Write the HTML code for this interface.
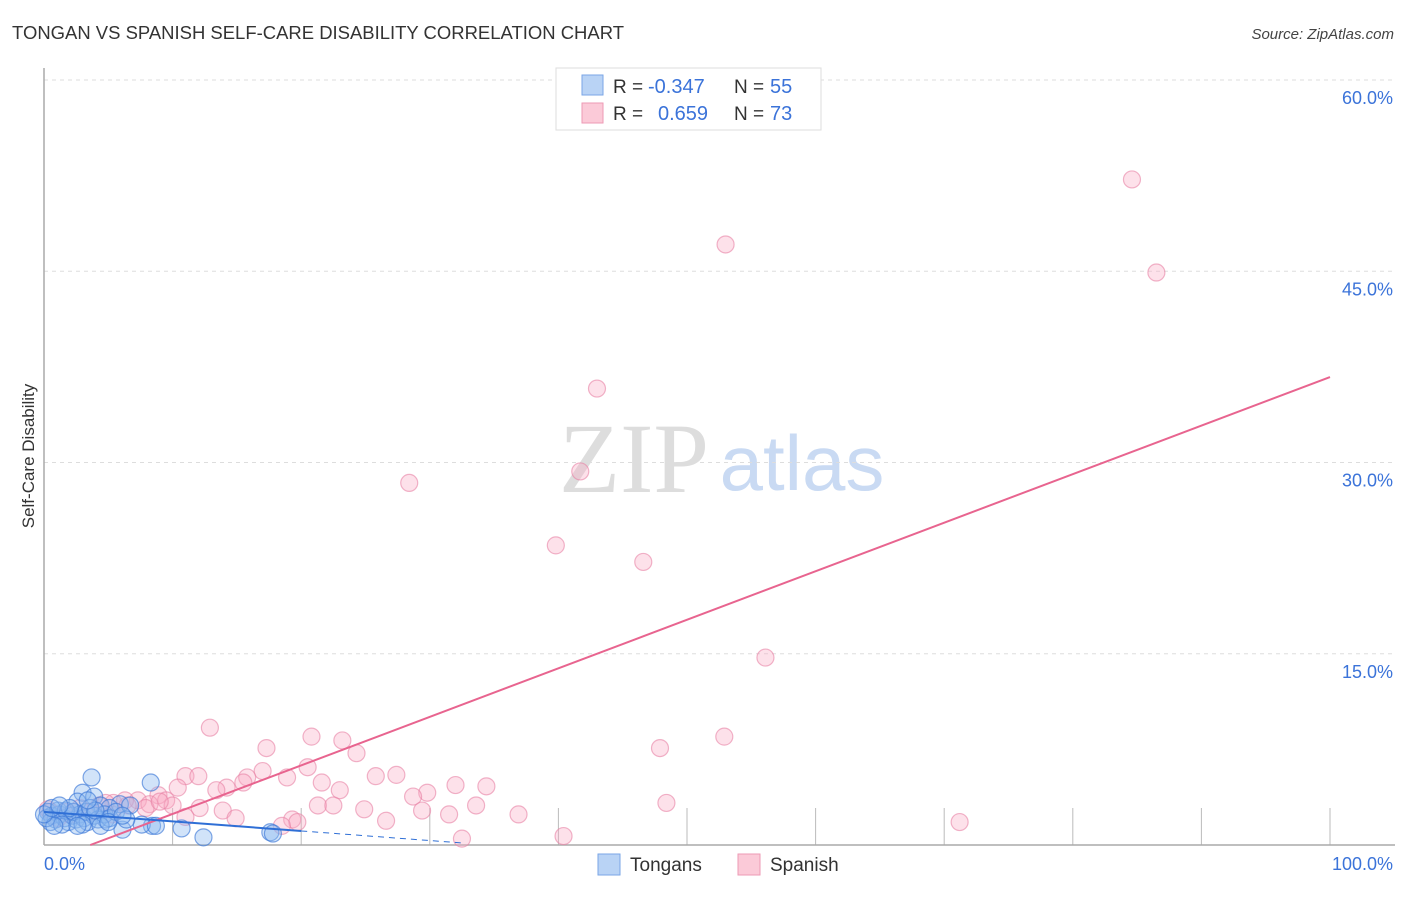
<!DOCTYPE html>
<html><head><meta charset="utf-8"><style>
body{margin:0;background:#fff;font-family:"Liberation Sans",sans-serif;}
</style></head><body>
<svg width="1406" height="892" xmlns="http://www.w3.org/2000/svg" font-family="Liberation Sans, sans-serif">
<text x="12" y="39" font-size="18" fill="#333" textLength="612" lengthAdjust="spacingAndGlyphs">TONGAN VS SPANISH SELF-CARE DISABILITY CORRELATION CHART</text>
<text x="1394" y="39" font-size="15" fill="#444" text-anchor="end" font-style="italic">Source: ZipAtlas.com</text>
<g>
<text x="634" y="492" font-size="100" fill="#ddd" text-anchor="middle" font-family="Liberation Serif, serif">ZIP</text>
<text x="802" y="490" font-size="78" fill="#c9daf3" text-anchor="middle">atlas</text>
</g>
<g id="grid"></g>
<g id="ticks"></g>
<line x1="44" y1="68" x2="44" y2="845" stroke="#aaa" stroke-width="1.5"/>
<line x1="44" y1="845" x2="1395" y2="845" stroke="#aaa" stroke-width="1.5"/>
<text transform="translate(34,456) rotate(-90)" font-size="17" fill="#333" text-anchor="middle">Self-Care Disability</text>
<text x="44" y="870" font-size="18" fill="#3b73d9">0.0%</text>
<text x="1393" y="870" font-size="18" fill="#3b73d9" text-anchor="end">100.0%</text>
<g id="pink"></g>
<g id="blue"></g>
<g id="lines"></g>
<g>
<rect x="556" y="68" width="265" height="62" fill="#fff" stroke="#ddd"/>
<rect x="582" y="75" width="21" height="20" fill="#b9d3f5" stroke="#7aa6e6"/>
<rect x="582" y="103" width="21" height="20" fill="#fbcad8" stroke="#ee9ab4"/>
<text x="613" y="93" font-size="19" fill="#333">R = </text><text x="648" y="93" font-size="20" fill="#3b73d9">-0.347</text>
<text x="734" y="93" font-size="19" fill="#333">N = </text><text x="770" y="93" font-size="20" fill="#3b73d9">55</text>
<text x="613" y="120" font-size="19" fill="#333">R = </text><text x="658" y="120" font-size="20" fill="#3b73d9">0.659</text>
<text x="734" y="120" font-size="19" fill="#333">N = </text><text x="770" y="120" font-size="20" fill="#3b73d9">73</text>
</g>
<g><rect x="598" y="854" width="22" height="21" fill="#b9d3f5" stroke="#7aa6e6"/><text x="630" y="871" font-size="19" fill="#333">Tongans</text></g>
<g><rect x="738" y="854" width="22" height="21" fill="#fbcad8" stroke="#ee9ab4"/><text x="770" y="871" font-size="19" fill="#333">Spanish</text></g>
</svg>
<script>
const yTicks=[15,30,45,60];
const pinkX=[84.6,53.0,86.5,43.0,28.4,41.7,39.8,46.6,56.1,12.9,20.8,23.2,52.9,47.9,17.3,24.3,11.0,12.0,17.0,20.5,25.8,27.4,15.8,15.5,18.9,14.2,10.4,21.6,23.0,29.8,28.7,32.0,34.4,13.4,8.9,9.5,7.3,5.4,12.1,13.9,21.3,22.5,24.9,29.4,33.6,36.9,31.5,26.6,48.4,71.2,40.4,32.5,19.3,19.7,18.5,14.9,11.0,8.2,10.0,6.3,4.3,2.8,1.7,0.5,1.1,3.6,2.0,6.5,5.3,7.9,9.0,0.3,4.8];
const pinkY=[52.2,47.1,44.9,35.8,28.4,29.3,23.5,22.2,14.7,9.2,8.5,8.2,8.5,7.6,7.6,7.2,5.4,5.4,5.8,6.1,5.4,5.5,5.3,4.9,5.3,4.5,4.5,4.9,4.3,4.1,3.8,4.7,4.6,4.3,3.9,3.5,3.5,3.3,2.9,2.7,3.1,3.1,2.8,2.7,3.1,2.4,2.4,1.9,3.3,1.8,0.7,0.5,2.0,1.8,1.5,2.1,2.2,3.2,3.1,3.5,3.1,2.9,2.6,2.6,2.1,2.6,2.4,3.1,2.4,2.9,3.4,2.8,3.3];
const blueX=[3.7,8.3,3.0,3.9,2.6,5.9,4.4,5.1,6.1,8.4,10.7,12.4,17.6,17.8,4.8,7.6,8.7,0.3,0.6,0.9,1.2,1.6,1.9,2.2,2.5,2.8,3.1,3.4,0.5,1.1,1.7,2.3,3.3,3.9,4.2,4.7,5.1,1.4,2.0,0.2,0.8,3.0,3.6,5.6,6.7,0.0,4.0,4.4,0.6,5.0,6.4,2.6,6.1,1.2,3.4];
const blueY=[5.3,4.9,4.1,3.8,3.4,3.2,3.1,2.9,1.2,1.5,1.3,0.6,1.0,0.9,2.0,1.6,1.5,2.6,2.3,2.0,2.4,2.1,1.8,2.3,2.0,2.4,2.1,1.8,1.8,2.7,2.7,2.6,2.6,2.3,2.0,2.4,2.1,1.6,2.9,2.1,1.5,1.6,2.9,2.6,3.1,2.4,2.7,1.5,2.9,1.8,2.0,1.5,2.3,3.1,3.5];
const pinkTrend=[-1.37,0.3807]; // intercept, slope
const blueTrend=[2.6,-0.075];
const blueDashEnd=32.5;
const sx=v=>44+v*12.86, sy=v=>845-v*12.75;
const NS='http://www.w3.org/2000/svg';
function mk(p,tag,a){const e=document.createElementNS(NS,tag);for(const k in a)e.setAttribute(k,a[k]);document.getElementById(p).appendChild(e);return e;}
yTicks.forEach(t=>{
 const l=mk('grid','line',{x1:44,x2:1395,y1:sy(t),y2:sy(t),stroke:'#ddd','stroke-dasharray':'4,4'});
 
 
 const tx=mk('grid','text',{x:1393,y:sy(t)+24,'font-size':18,fill:'#3b73d9','text-anchor':'end'});tx.textContent=t.toFixed(1)+'%';
 
 
});
for(let i=1;i<=10;i++){const l=mk('ticks','line',{x1:sx(i*10),x2:sx(i*10),y1:808,y2:845,stroke:'#bbb'});
 
 }
pinkX.forEach((x,i)=>{const c=mk('pink','circle',{cx:sx(x),cy:sy(pinkY[i]),r:8.5,fill:'rgba(248,170,195,0.35)',stroke:'rgba(232,130,165,0.6)','stroke-width':1.2});
 
 });
blueX.forEach((x,i)=>{const c=mk('blue','circle',{cx:sx(x),cy:sy(blueY[i]),r:8.5,fill:'rgba(140,185,240,0.4)',stroke:'rgba(60,120,215,0.65)','stroke-width':1.2});
 
 });
const x0=-pinkTrend[0]/pinkTrend[1];
const pl=mk('lines','line',{x1:sx(x0),y1:sy(0),x2:sx(100),y2:sy(pinkTrend[0]+pinkTrend[1]*100),stroke:'#e8648f','stroke-width':2});


const bl=mk('lines','line',{x1:sx(0),y1:sy(blueTrend[0]),x2:sx(20),y2:sy(blueTrend[0]+blueTrend[1]*20),stroke:'#2f6fd6','stroke-width':2});


const bd=mk('lines','line',{x1:sx(20),y1:sy(blueTrend[0]+blueTrend[1]*20),x2:sx(blueDashEnd),y2:sy(Math.max(0,blueTrend[0]+blueTrend[1]*blueDashEnd)),stroke:'#2f6fd6','stroke-width':1,'stroke-dasharray':'6,5'});


</script>
</body></html>
